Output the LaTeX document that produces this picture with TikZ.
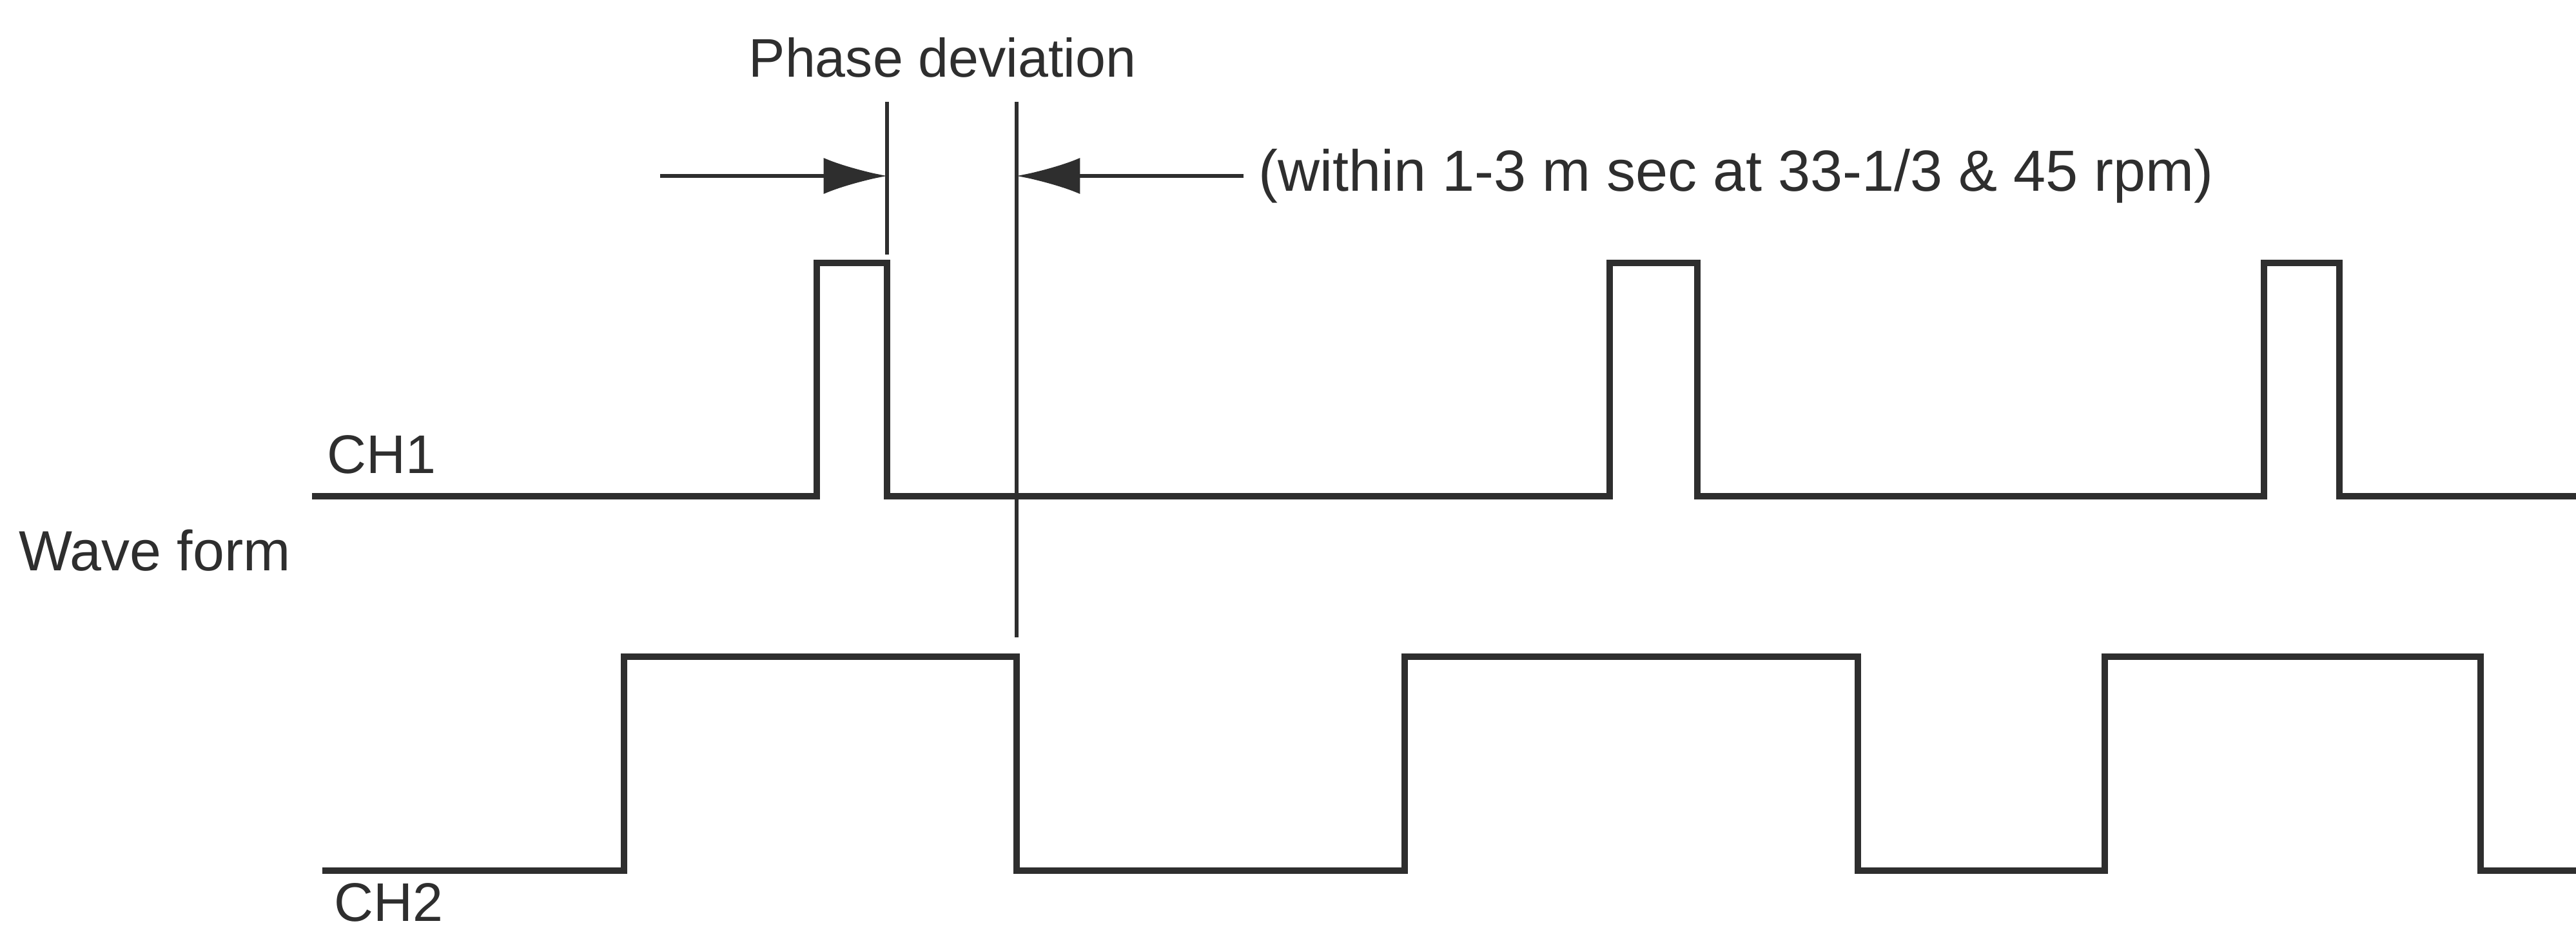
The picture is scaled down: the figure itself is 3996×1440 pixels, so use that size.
\documentclass[tikz,border=0pt]{standalone}
\usepackage{fontspec}
\setmainfont{Liberation Sans}
\usetikzlibrary{arrows.meta}
\definecolor{ink}{HTML}{2E2E2E}
\begin{document}
\begin{tikzpicture}[x=0.01cm, y=-0.01cm,
        wave/.style={ink, line width=2.6pt, line join=miter},
        marker/.style={ink, line width=1.6pt},
        pointer/.style={ink, line width=1.8pt, -{Latex[length=28pt, width=16pt]}},
        lbl/.style={ink, inner sep=0pt, font=\fontsize{24}{28}\selectfont}]
    \useasboundingbox (0,0) rectangle (3996,1440);
    \node[lbl] (title) at (1462,89) {Phase deviation};
    \node[lbl, anchor=west, inner xsep=0.23cm, font=\fontsize{25.6}{30}\selectfont] (note) at (1929,273) {(within 1-3 m sec at 33-1/3 \& 45 rpm)};
    \node[lbl, font=\fontsize{25}{30}\selectfont] (wave) at (240,854) {Wave form};
    \node[lbl, anchor=west] (ch1) at (507,705) {CH1};
    \node[lbl, anchor=west] (ch2) at (518,1400) {CH2};
    \coordinate (start) at (1024,273);
    \coordinate (lmark) at (1376,273);
    \coordinate (rmark) at (1577,273);
    \draw[marker] (1376,158) -- (1376,395);
    \draw[marker] (1577,158) -- (1577,989);
    \draw[pointer] (start) -- (lmark);
    \draw[pointer] (note.west) -- (rmark);
    \draw[wave] (484,770) -- (1267,770) |- (1376,408) |- (2497,770) |- (2633,408)
        |- (3512,770) |- (3629,408) |- (3996,770);
    \draw[wave] (500,1351) -- (968,1351) |- (1577,1019) |- (2179,1351) |- (2882,1019)
        |- (3265,1351) |- (3848,1019) |- (3996,1351);
\end{tikzpicture}
\end{document}
